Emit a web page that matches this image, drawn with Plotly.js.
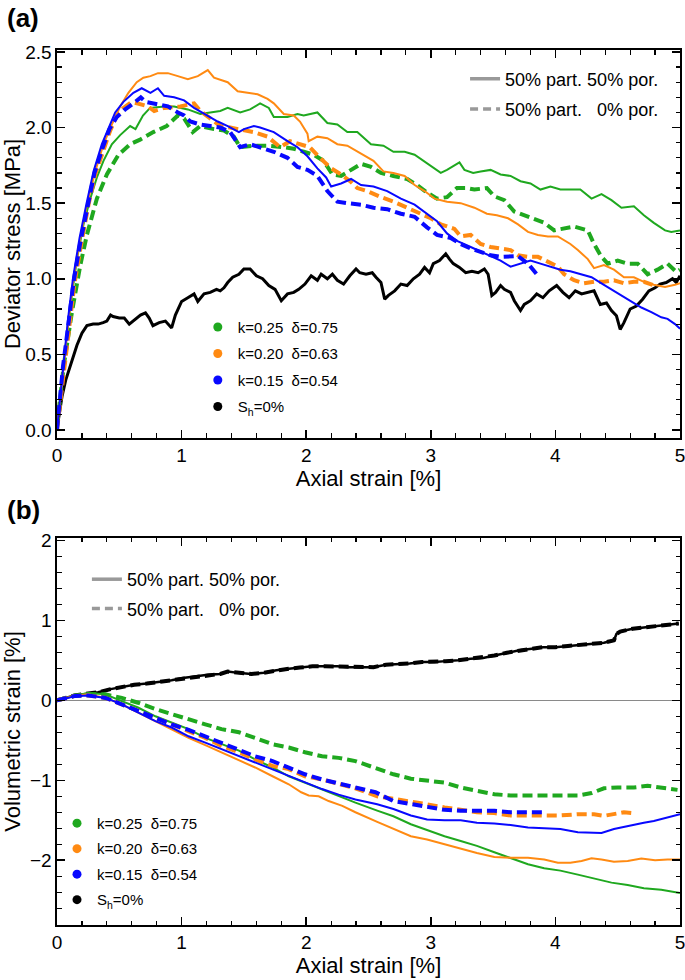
<!DOCTYPE html>
<html>
<head>
<meta charset="utf-8">
<script src="https://cdn.plot.ly/plotly-3.0.1.min.js"></script>
<style>html,body{margin:0;padding:0;background:#fff;}</style>
</head>
<body>
<div id="chart" style="width:685px;height:980px;"></div>
<script>
// ---- Panel (a): axial strain [%] vs deviator stress [MPa], [x, y] pairs ----
const a_green_solid = [[0,0.02],[0.053,0.44],[0.107,0.82],[0.16,1.13],[0.213,1.36],[0.267,1.53],[0.32,1.67],[0.373,1.78],[0.44,1.89],[0.507,1.95],[0.587,2.01],[0.63,1.99],[0.69,2.08],[0.747,2.13],[0.86,2.14],[0.94,2.14],[1.05,2.12],[1.15,2.09],[1.23,2.10],[1.31,2.11],[1.37,2.13],[1.47,2.10],[1.55,2.12],[1.63,2.16],[1.70,2.13],[1.74,2.07],[1.85,2.07],[1.93,2.09],[1.98,2.08],[2.09,2.10],[2.17,2.03],[2.25,2.02],[2.33,1.97],[2.41,1.97],[2.52,1.89],[2.62,1.88],[2.70,1.84],[2.79,1.84],[2.87,1.82],[2.97,1.76],[3.08,1.70],[3.13,1.72],[3.23,1.77],[3.27,1.72],[3.34,1.70],[3.40,1.71],[3.48,1.72],[3.56,1.69],[3.64,1.68],[3.72,1.645],[3.80,1.63],[3.88,1.59],[3.96,1.61],[4.04,1.59],[4.12,1.59],[4.20,1.59],[4.29,1.53],[4.37,1.56],[4.45,1.52],[4.53,1.47],[4.63,1.48],[4.71,1.42],[4.79,1.37],[4.88,1.32],[4.93,1.31],[5.0,1.32]];
const a_green_dashed = [[0,0.02],[0.053,0.42],[0.12,0.78],[0.187,1.09],[0.24,1.29],[0.32,1.53],[0.40,1.69],[0.493,1.82],[0.587,1.89],[0.667,1.92],[0.773,1.97],[0.88,2.01],[0.97,2.08],[1.02,2.06],[1.09,1.97],[1.15,2.01],[1.26,1.99],[1.34,1.98],[1.42,1.94],[1.47,1.87],[1.58,1.88],[1.69,1.88],[1.82,1.87],[1.90,1.86],[1.98,1.84],[2.06,1.82],[2.14,1.78],[2.21,1.69],[2.28,1.68],[2.36,1.72],[2.44,1.76],[2.52,1.74],[2.60,1.70],[2.70,1.68],[2.81,1.66],[2.89,1.62],[2.97,1.57],[3.05,1.53],[3.13,1.54],[3.21,1.60],[3.29,1.60],[3.35,1.59],[3.45,1.60],[3.51,1.545],[3.59,1.52],[3.67,1.445],[3.75,1.42],[3.83,1.39],[3.91,1.37],[3.99,1.32],[4.07,1.33],[4.15,1.345],[4.26,1.32],[4.31,1.23],[4.37,1.145],[4.42,1.10],[4.50,1.12],[4.58,1.10],[4.66,1.10],[4.74,1.03],[4.82,1.06],[4.90,1.10],[4.97,1.045],[5.0,1.06]];
const a_orange_solid = [[0,0],[0.013,0.11],[0.053,0.42],[0.093,0.73],[0.133,1.0],[0.187,1.27],[0.24,1.49],[0.307,1.71],[0.373,1.89],[0.44,2.02],[0.507,2.14],[0.573,2.23],[0.64,2.30],[0.693,2.33],[0.75,2.34],[0.81,2.36],[0.89,2.36],[0.97,2.34],[1.05,2.32],[1.13,2.34],[1.21,2.38],[1.26,2.33],[1.37,2.30],[1.45,2.24],[1.53,2.23],[1.61,2.22],[1.69,2.19],[1.74,2.16],[1.82,2.09],[1.90,2.08],[1.95,2.04],[2.01,1.96],[2.02,1.91],[2.09,1.94],[2.17,1.93],[2.25,1.89],[2.33,1.88],[2.44,1.83],[2.54,1.78],[2.62,1.71],[2.70,1.70],[2.79,1.68],[2.87,1.62],[2.95,1.58],[3.03,1.53],[3.13,1.51],[3.24,1.50],[3.35,1.47],[3.45,1.43],[3.53,1.42],[3.62,1.40],[3.70,1.36],[3.78,1.31],[3.86,1.29],[3.94,1.28],[4.02,1.28],[4.12,1.23],[4.18,1.19],[4.26,1.13],[4.31,1.07],[4.39,1.09],[4.47,1.06],[4.55,1.01],[4.63,1.01],[4.71,0.98],[4.79,0.96],[4.88,0.945],[4.96,0.96],[5.0,0.97]];
const a_orange_dashed = [[0,0],[0.053,0.38],[0.099,0.69],[0.139,0.96],[0.192,1.22],[0.253,1.49],[0.307,1.69],[0.373,1.84],[0.427,1.98],[0.48,2.08],[0.533,2.13],[0.6,2.17],[0.73,2.14],[0.78,2.11],[0.86,2.13],[0.99,2.14],[1.10,2.16],[1.15,2.11],[1.23,2.06],[1.31,2.01],[1.39,2.0],[1.47,1.99],[1.58,1.97],[1.69,1.94],[1.79,1.87],[1.87,1.91],[1.95,1.89],[2.03,1.87],[2.11,1.80],[2.20,1.73],[2.28,1.69],[2.36,1.64],[2.41,1.60],[2.49,1.58],[2.60,1.54],[2.70,1.51],[2.81,1.47],[2.92,1.43],[3.00,1.40],[3.08,1.36],[3.19,1.33],[3.24,1.28],[3.32,1.29],[3.40,1.23],[3.48,1.21],[3.56,1.20],[3.64,1.19],[3.70,1.155],[3.78,1.145],[3.86,1.145],[3.94,1.11],[4.02,1.08],[4.07,1.03],[4.15,0.99],[4.23,0.97],[4.31,0.98],[4.39,0.98],[4.47,0.99],[4.55,0.97],[4.63,0.98],[4.71,0.98],[4.78,0.96]];
const a_blue_solid = [[0,0],[0.048,0.42],[0.088,0.73],[0.128,1.0],[0.181,1.27],[0.235,1.49],[0.293,1.71],[0.36,1.89],[0.413,2.0],[0.467,2.1],[0.533,2.17],[0.613,2.23],[0.68,2.26],[0.75,2.23],[0.81,2.26],[0.86,2.21],[0.94,2.20],[1.02,2.18],[1.10,2.13],[1.21,2.08],[1.29,2.04],[1.37,2.01],[1.46,1.97],[1.50,1.99],[1.58,2.01],[1.63,2.0],[1.74,1.97],[1.85,1.91],[1.93,1.87],[2.01,1.81],[2.09,1.73],[2.16,1.67],[2.20,1.61],[2.28,1.63],[2.36,1.66],[2.44,1.62],[2.54,1.61],[2.65,1.58],[2.76,1.53],[2.87,1.49],[2.97,1.43],[3.05,1.38],[3.13,1.30],[3.21,1.25],[3.32,1.21],[3.40,1.18],[3.48,1.145],[3.56,1.12],[3.64,1.08],[3.72,1.10],[3.80,1.12],[3.88,1.10],[3.96,1.08],[4.04,1.06],[4.12,1.05],[4.20,1.03],[4.29,1.01],[4.37,0.97],[4.45,0.93],[4.53,0.89],[4.61,0.845],[4.69,0.81],[4.77,0.78],[4.85,0.745],[4.90,0.735],[4.96,0.70],[5.0,0.67]];
const a_blue_dashed = [[0,0],[0.048,0.42],[0.093,0.71],[0.133,0.98],[0.187,1.24],[0.245,1.49],[0.301,1.70],[0.368,1.87],[0.421,1.99],[0.48,2.07],[0.547,2.12],[0.613,2.16],[0.672,2.20],[0.71,2.17],[0.78,2.16],[0.89,2.14],[0.97,2.10],[1.02,2.08],[1.07,2.04],[1.15,2.02],[1.23,2.01],[1.31,2.0],[1.39,1.97],[1.47,1.87],[1.55,1.89],[1.63,1.87],[1.74,1.84],[1.85,1.80],[1.93,1.74],[2.01,1.72],[2.09,1.68],[2.17,1.58],[2.25,1.51],[2.33,1.50],[2.44,1.49],[2.54,1.47],[2.65,1.46],[2.76,1.43],[2.87,1.41],[2.97,1.34],[3.05,1.29],[3.16,1.27],[3.24,1.23],[3.32,1.20],[3.40,1.18],[3.48,1.155],[3.56,1.145],[3.64,1.145],[3.70,1.15],[3.78,1.10],[3.83,1.045],[3.87,1.01]];
const a_black = [[0,0.01],[0.023,0.15],[0.04,0.22],[0.07,0.33],[0.12,0.46],[0.16,0.56],[0.2,0.64],[0.24,0.69],[0.29,0.70],[0.33,0.70],[0.37,0.71],[0.40,0.72],[0.43,0.76],[0.45,0.75],[0.50,0.74],[0.54,0.74],[0.58,0.70],[0.63,0.73],[0.67,0.76],[0.71,0.775],[0.74,0.74],[0.77,0.69],[0.82,0.71],[0.87,0.72],[0.90,0.69],[0.92,0.675],[0.95,0.76],[1.0,0.85],[1.05,0.875],[1.10,0.90],[1.13,0.85],[1.18,0.90],[1.23,0.91],[1.28,0.93],[1.31,0.92],[1.34,0.94],[1.37,0.975],[1.41,1.01],[1.46,1.03],[1.50,1.065],[1.55,1.065],[1.60,1.02],[1.65,1.0],[1.70,0.955],[1.75,0.93],[1.78,0.89],[1.80,0.855],[1.85,0.90],[1.90,0.91],[1.94,0.93],[1.99,0.965],[2.04,1.02],[2.09,0.99],[2.12,1.03],[2.17,1.0],[2.21,1.03],[2.25,0.99],[2.30,0.965],[2.35,1.02],[2.40,1.065],[2.43,1.04],[2.48,1.03],[2.53,1.04],[2.56,1.01],[2.60,0.975],[2.63,0.865],[2.66,0.89],[2.71,0.92],[2.76,0.965],[2.81,0.955],[2.86,1.0],[2.91,1.03],[2.95,1.075],[2.99,1.04],[3.02,1.10],[3.07,1.12],[3.12,1.165],[3.15,1.13],[3.18,1.10],[3.23,1.075],[3.28,1.04],[3.33,1.05],[3.38,1.04],[3.43,1.065],[3.46,1.03],[3.49,0.89],[3.52,0.91],[3.56,0.955],[3.59,0.93],[3.64,0.91],[3.67,0.855],[3.72,0.79],[3.75,0.83],[3.80,0.855],[3.85,0.90],[3.90,0.875],[3.95,0.92],[4.01,0.955],[4.06,0.91],[4.11,0.875],[4.16,0.92],[4.21,0.90],[4.26,0.91],[4.31,0.92],[4.36,0.83],[4.41,0.84],[4.45,0.79],[4.49,0.755],[4.52,0.665],[4.55,0.71],[4.60,0.80],[4.65,0.82],[4.70,0.865],[4.75,0.92],[4.80,0.94],[4.84,0.965],[4.89,0.975],[4.94,1.0],[4.97,0.975],[5.0,1.02]];

// ---- Panel (b): axial strain [%] vs volumetric strain [%] ----
const b_green_solid = [[0,0],[0.145,0.06],[0.25,0.09],[0.386,0.075],[0.52,-0.01],[0.65,-0.09],[0.79,-0.20],[0.92,-0.28],[1.056,-0.36],[1.19,-0.47],[1.32,-0.55],[1.46,-0.63],[1.59,-0.74],[1.73,-0.84],[1.86,-0.95],[1.99,-1.03],[2.127,-1.11],[2.26,-1.20],[2.395,-1.28],[2.57,-1.38],[2.70,-1.45],[2.84,-1.55],[2.97,-1.62],[3.11,-1.70],[3.24,-1.76],[3.37,-1.82],[3.51,-1.90],[3.64,-1.97],[3.78,-2.05],[3.91,-2.10],[4.04,-2.13],[4.18,-2.18],[4.31,-2.23],[4.45,-2.28],[4.58,-2.31],[4.71,-2.35],[4.85,-2.37],[5.0,-2.41]];
const b_green_dashed = [[0,0],[0.145,0.06],[0.25,0.075],[0.386,0.075],[0.52,0.03],[0.65,-0.03],[0.79,-0.11],[0.92,-0.175],[1.056,-0.24],[1.19,-0.30],[1.32,-0.36],[1.46,-0.40],[1.59,-0.47],[1.73,-0.55],[1.86,-0.59],[1.99,-0.65],[2.127,-0.70],[2.26,-0.72],[2.395,-0.76],[2.57,-0.86],[2.70,-0.925],[2.84,-0.98],[2.97,-1.01],[3.11,-1.03],[3.24,-1.09],[3.37,-1.13],[3.51,-1.175],[3.64,-1.19],[3.78,-1.19],[3.91,-1.20],[4.04,-1.20],[4.18,-1.19],[4.29,-1.16],[4.39,-1.10],[4.50,-1.09],[4.63,-1.09],[4.74,-1.07],[4.85,-1.09],[4.98,-1.12]];
const b_orange_solid = [[0,0],[0.145,0.06],[0.25,0.075],[0.39,0.03],[0.52,-0.05],[0.65,-0.15],[0.79,-0.26],[0.92,-0.36],[1.056,-0.47],[1.19,-0.56],[1.32,-0.65],[1.46,-0.74],[1.59,-0.84],[1.73,-0.95],[1.86,-1.05],[1.96,-1.15],[2.02,-1.19],[2.10,-1.20],[2.18,-1.26],[2.29,-1.32],[2.395,-1.40],[2.57,-1.52],[2.70,-1.61],[2.84,-1.70],[2.97,-1.74],[3.11,-1.80],[3.24,-1.85],[3.37,-1.91],[3.51,-1.96],[3.64,-1.97],[3.78,-1.97],[3.91,-1.99],[4.02,-2.03],[4.12,-2.03],[4.21,-2.01],[4.29,-1.975],[4.37,-1.99],[4.47,-2.02],[4.58,-2.01],[4.69,-1.98],[4.80,-2.0],[4.90,-1.99],[5.0,-1.99]];
const b_orange_dashed = [[0,0],[0.145,0.055],[0.25,0.06],[0.39,0.03],[0.52,-0.05],[0.65,-0.13],[0.79,-0.22],[0.92,-0.30],[1.056,-0.38],[1.19,-0.47],[1.32,-0.57],[1.46,-0.65],[1.59,-0.74],[1.73,-0.82],[1.86,-0.86],[1.99,-0.95],[2.127,-0.99],[2.26,-1.05],[2.395,-1.10],[2.57,-1.20],[2.70,-1.23],[2.84,-1.26],[2.97,-1.30],[3.11,-1.34],[3.24,-1.37],[3.37,-1.40],[3.51,-1.41],[3.64,-1.44],[3.78,-1.44],[3.91,-1.44],[4.04,-1.44],[4.18,-1.425],[4.31,-1.425],[4.39,-1.445],[4.47,-1.425],[4.55,-1.40],[4.62,-1.41]];
const b_blue_solid = [[0,0],[0.145,0.05],[0.25,0.06],[0.39,0.03],[0.52,-0.05],[0.65,-0.15],[0.79,-0.26],[0.92,-0.34],[1.056,-0.45],[1.19,-0.53],[1.32,-0.61],[1.46,-0.70],[1.59,-0.78],[1.73,-0.86],[1.86,-0.95],[1.99,-1.03],[2.127,-1.11],[2.26,-1.18],[2.395,-1.24],[2.57,-1.30],[2.70,-1.36],[2.84,-1.44],[2.97,-1.49],[3.11,-1.50],[3.24,-1.50],[3.37,-1.53],[3.51,-1.54],[3.64,-1.56],[3.78,-1.59],[3.91,-1.60],[4.04,-1.61],[4.18,-1.65],[4.31,-1.66],[4.37,-1.66],[4.47,-1.61],[4.58,-1.57],[4.71,-1.53],[4.79,-1.51],[4.88,-1.47],[5.0,-1.425]];
const b_blue_dashed = [[0,0],[0.145,0.055],[0.25,0.06],[0.39,0.03],[0.52,-0.05],[0.65,-0.13],[0.79,-0.22],[0.92,-0.30],[1.056,-0.37],[1.19,-0.45],[1.32,-0.53],[1.46,-0.61],[1.59,-0.70],[1.73,-0.76],[1.86,-0.84],[1.99,-0.925],[2.127,-0.99],[2.26,-1.04],[2.395,-1.09],[2.556,-1.15],[2.70,-1.26],[2.84,-1.30],[2.97,-1.34],[3.11,-1.37],[3.24,-1.38],[3.37,-1.38],[3.51,-1.38],[3.64,-1.40],[3.78,-1.40],[3.90,-1.40]];
const b_black = [[0,0],[0.14,0.06],[0.23,0.08],[0.33,0.10],[0.43,0.14],[0.53,0.17],[0.62,0.195],[0.72,0.21],[0.82,0.23],[0.92,0.25],[1.01,0.28],[1.11,0.30],[1.21,0.32],[1.31,0.33],[1.37,0.36],[1.47,0.34],[1.56,0.33],[1.66,0.345],[1.76,0.375],[1.86,0.395],[1.95,0.41],[2.05,0.425],[2.15,0.425],[2.25,0.425],[2.34,0.415],[2.44,0.415],[2.54,0.415],[2.64,0.445],[2.73,0.45],[2.83,0.46],[2.93,0.48],[3.03,0.48],[3.12,0.49],[3.22,0.50],[3.32,0.52],[3.42,0.53],[3.51,0.56],[3.61,0.595],[3.71,0.625],[3.81,0.645],[3.90,0.665],[4.0,0.665],[4.10,0.68],[4.19,0.695],[4.29,0.71],[4.39,0.72],[4.47,0.75],[4.49,0.83],[4.52,0.86],[4.62,0.895],[4.71,0.91],[4.81,0.925],[4.91,0.94],[4.99,0.96]];

// legend labels
const styleLabels = ['50% part. 50% por.', '50% part.\u00A0\u00A0\u00A00% por.'];
const groupLabels = ['k=0.25\u00A0\u00A0\u03B4=0.75', 'k=0.20\u00A0\u00A0\u03B4=0.63', 'k=0.15\u00A0\u00A0\u03B4=0.54', 'S<sub>h</sub>=0%'];

const GREEN = '#1fa81f', ORANGE = '#ff8a12', BLUE = '#0808ff', BLACK = '#000000', GREY = '#999999';
const DASH = '10px,5px';

function series(pairs, color, dashed, width, xa, ya) {
  return {
    x: pairs.map(p => p[0]), y: pairs.map(p => p[1]),
    xaxis: xa, yaxis: ya, type: 'scatter', mode: 'lines', showlegend: false,
    line: {color: color, width: width, dash: dashed ? DASH : 'solid'},
    hoverinfo: 'skip'
  };
}
function styleEntry(label, dashed, legend, grp) {
  return {x: [null], y: [null], type: 'scatter', mode: 'lines', name: label, legend: legend,
    legendgroup: grp, line: {color: GREY, width: 3.5, dash: dashed ? '8px,5px' : 'solid'}};
}
function dotEntry(label, color, legend, grp) {
  return {x: [null], y: [null], type: 'scatter', mode: 'markers', name: label, legend: legend,
    legendgroup: grp, marker: {color: color, size: 9}};
}

const traces = [
  series(a_black, BLACK, false, 3, 'x', 'y'),
  series(a_green_solid, GREEN, false, 2, 'x', 'y'),
  series(a_green_dashed, GREEN, true, 4, 'x', 'y'),
  series(a_orange_solid, ORANGE, false, 2, 'x', 'y'),
  series(a_orange_dashed, ORANGE, true, 4, 'x', 'y'),
  series(a_blue_solid, BLUE, false, 2, 'x', 'y'),
  series(a_blue_dashed, BLUE, true, 4, 'x', 'y'),

  series(b_black, BLACK, false, 2.5, 'x2', 'y2'),
  series(b_black, BLACK, true, 4, 'x2', 'y2'),
  series(b_green_solid, GREEN, false, 2, 'x2', 'y2'),
  series(b_green_dashed, GREEN, true, 4, 'x2', 'y2'),
  series(b_orange_solid, ORANGE, false, 2, 'x2', 'y2'),
  series(b_orange_dashed, ORANGE, true, 4, 'x2', 'y2'),
  series(b_blue_solid, BLUE, false, 2, 'x2', 'y2'),
  series(b_blue_dashed, BLUE, true, 4, 'x2', 'y2'),

  styleEntry(styleLabels[0], false, 'legend', 'sa'),
  styleEntry(styleLabels[1], true, 'legend', 'sb'),
  dotEntry(groupLabels[0], GREEN, 'legend2', 'g1'),
  dotEntry(groupLabels[1], ORANGE, 'legend2', 'g2'),
  dotEntry(groupLabels[2], BLUE, 'legend2', 'g3'),
  dotEntry(groupLabels[3], BLACK, 'legend2', 'g4'),
  styleEntry(styleLabels[0], false, 'legend3', 'tsa'),
  styleEntry(styleLabels[1], true, 'legend3', 'tsb'),
  dotEntry(groupLabels[0], GREEN, 'legend4', 'h1'),
  dotEntry(groupLabels[1], ORANGE, 'legend4', 'h2'),
  dotEntry(groupLabels[2], BLUE, 'legend4', 'h3'),
  dotEntry(groupLabels[3], BLACK, 'legend4', 'h4')
];

const axisBase = {
  showline: true, linecolor: 'black', linewidth: 1.6, mirror: 'ticks',
  ticks: 'inside', ticklen: 8, tickwidth: 1.5, tickcolor: 'black',
  showgrid: false, zeroline: false, tickfont: {size: 19, color: 'black'},
  ticklabeloverflow: 'allow', fixedrange: true
};
function minor(d) { return {dtick: d, ticks: 'inside', ticklen: 4.5, tickwidth: 1.2, tickcolor: 'black', showgrid: false}; }

const legendBase = {bgcolor: 'rgba(0,0,0,0)', borderwidth: 0, xanchor: 'left', yanchor: 'top',
  traceorder: 'grouped', itemclick: false, itemdoubleclick: false};

const layout = {
  width: 685, height: 980,
  margin: {l: 57, r: 5, t: 50, b: 55},
  paper_bgcolor: 'white', plot_bgcolor: 'white',
  font: {family: 'Liberation Sans, Arial, sans-serif', color: 'black'},
  showlegend: true,
  xaxis: Object.assign({}, axisBase, {domain: [0, 1], anchor: 'y', range: [0, 5], dtick: 1, tick0: 0,
    minor: minor(0.2), title: {text: 'Axial strain [%]', font: {size: 22}, standoff: 4}}),
  yaxis: Object.assign({}, axisBase, {domain: [0.5566, 1], anchor: 'x', range: [-0.053, 2.513], dtick: 0.5, tick0: 0,
    tickformat: '.1f', minor: minor(0.1), title: {text: 'Deviator stress [MPa]', font: {size: 22}, standoff: 6}}),
  xaxis2: Object.assign({}, axisBase, {domain: [0, 1], anchor: 'y2', range: [0, 5], dtick: 1, tick0: 0,
    minor: minor(0.2), title: {text: 'Axial strain [%]', font: {size: 22}, standoff: 4}}),
  yaxis2: Object.assign({}, axisBase, {domain: [0, 0.4423], anchor: 'x2', range: [-2.81, 2.03], dtick: 1, tick0: 0,
    minor: minor(0.2), zeroline: true, zerolinecolor: '#8a8a8a', zerolinewidth: 1,
    title: {text: 'Volumetric strain [%]', font: {size: 22}, standoff: 6}}),
  legend: Object.assign({}, legendBase, {x: 0.655, y: 0.988, font: {size: 18}, tracegroupgap: 4}),
  legend2: Object.assign({}, legendBase, {x: 0.226, y: 0.702, font: {size: 15}, tracegroupgap: 4}),
  legend3: Object.assign({}, legendBase, {x: 0.048, y: 0.416, font: {size: 18}, tracegroupgap: 3}),
  legend4: Object.assign({}, legendBase, {x: 0.000, y: 0.135, font: {size: 15}, tracegroupgap: 3}),
  annotations: [
    {text: '<b>(a)</b>', xref: 'paper', yref: 'paper', x: -0.083, y: 1.0366, xanchor: 'left', yanchor: 'middle',
      showarrow: false, font: {size: 26, color: 'black'}},
    {text: '<b>(b)</b>', xref: 'paper', yref: 'paper', x: -0.083, y: 0.474, xanchor: 'left', yanchor: 'middle',
      showarrow: false, font: {size: 26, color: 'black'}}
  ]
};

Plotly.newPlot('chart', traces, layout, {displayModeBar: false, staticPlot: true});
</script>
</body>
</html>
